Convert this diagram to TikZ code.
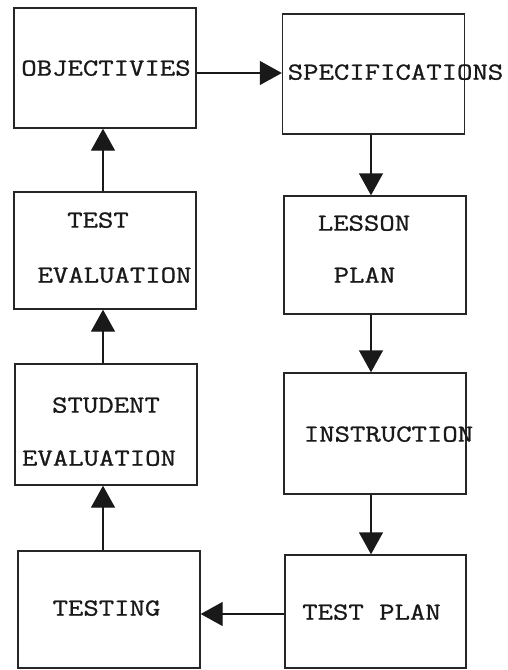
\documentclass[tikz,border=0pt]{standalone}
\usepackage{fontspec}
\usetikzlibrary{arrows.meta}
\newfontfamily\typewriter[FakeBold=0.9]{Latin Modern Mono}
\begin{document}
\begin{tikzpicture}[x=1pt,y=-1pt,
  box/.style={draw=black!85,line width=1.4pt,inner sep=0pt,minimum width=182pt,minimum height=#1},
  box/.default=120pt,
  lbl/.style={font=\fontsize{24.5}{26}\typewriter,inner sep=0pt,text depth=0pt,xscale=1.22,transform shape,text=black!90},
  arr/.style={line width=1.4pt,draw=black!90,-{Triangle[length=22pt,width=24pt]}}]
\useasboundingbox (0,0) rectangle (507,670);

% left column boxes
\node[box=120pt] (obj)     at (105,68)    {};
\node[box=117pt] (tev)     at (105,250.5) {};
\node[box=121pt] (stu)     at (106,424.5) {};
\node[box=117pt] (testing) at (109,609.5) {};

% right column boxes
\node[box=120pt] (spec)    at (373.5,74)  {};
\node[box=118pt] (lesson)  at (375,255)   {};
\node[box=121pt] (instr)   at (375,433.5) {};
\node[box=113pt,minimum width=181pt] (tplan) at (375.5,611.5) {};

% labels
\node[lbl] (tobj)   at (106,68)    {OBJECTIVIES};
\node[lbl] (tspec)  at (395.5,72)  {SPECIFICATIONS};
\node[lbl] (ttest)  at (98,220)    {TEST};
\node[lbl] (teval)  at (114.5,275) {EVALUATION};
\node[lbl] (tless)  at (364,223)   {LESSON};
\node[lbl] (tplanA) at (364.5,275) {PLAN};
\node[lbl] (tstu)   at (106,405)   {STUDENT};
\node[lbl] (teval2) at (99,458)    {EVALUATION};
\node[lbl] (tinstr) at (388.5,434) {INSTRUCTION};
\node[lbl] (ttsting) at (106.5,608) {TESTING};
\node[lbl] (ttplan) at (371.5,612) {TEST PLAN};

% column guides for the vertical connectors
\coordinate (colL) at (103,0);
\coordinate (colR) at (371,0);
\coordinate (rowT) at (0,73);
\coordinate (rowB) at (0,614);

% connectors
\draw[arr] (obj.east |- rowT) -- (spec.west |- rowT);
\draw[arr] (spec.south -| colR) -- (lesson.north -| colR);
\draw[arr] (lesson.south -| colR) -- (instr.north -| colR);
\draw[arr] (instr.south -| colR) -- (tplan.north -| colR);
\draw[arr] (tplan.west |- rowB) -- (testing.east |- rowB);
\draw[arr] (testing.north -| colL) -- (stu.south -| colL);
\draw[arr] (stu.north -| colL) -- (tev.south -| colL);
\draw[arr] (tev.north -| colL) -- (obj.south -| colL);
\end{tikzpicture}
\end{document}
